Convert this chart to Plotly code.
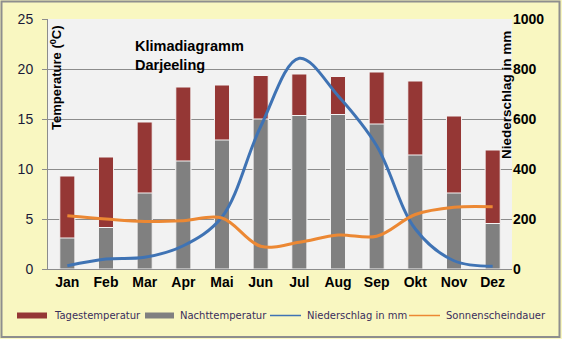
import plotly.graph_objects as go

months = ["Jan", "Feb", "Mar", "Apr", "Mai", "Jun", "Jul", "Aug", "Sep", "Okt", "Nov", "Dez"]
tages_temp = [9.3, 11.2, 14.7, 18.2, 18.4, 19.35, 19.5, 19.25, 19.7, 18.8, 15.3, 11.9]
nacht_temp = [3.1, 4.15, 7.6, 10.8, 12.9, 15.0, 15.35, 15.45, 14.5, 11.4, 7.6, 4.55]
niederschlag = [13, 40, 47, 93, 208, 570, 843, 693, 493, 160, 33, 11]
sonnenschein = [213, 200, 190, 193, 204, 91, 107, 136, 131, 218, 247, 249]
legend_names = ["Tagestemperatur", "Nachttemperatur", "Niederschlag in mm", "Sonnenscheindauer"]

RED = "#953735"
GRAY = "#808080"
BLUE = "#3F73B4"
ORANGE = "#EC8833"
FONT = "Liberation Sans, Arial, sans-serif"

fig = go.Figure()
fig.add_trace(go.Bar(x=months, y=tages_temp, name=legend_names[0], marker=dict(color=RED, line=dict(color="#F4F4F4", width=1)),
                     width=0.39))
fig.add_trace(go.Bar(x=months, y=nacht_temp, name=legend_names[1], marker=dict(color=GRAY, line=dict(color="#F4F4F4", width=1)),
                     width=0.39))
fig.add_trace(go.Scatter(x=months, y=niederschlag, name=legend_names[2], yaxis="y2", mode="lines",
                         line=dict(color=BLUE, width=3, shape="spline", smoothing=1.0)))
fig.add_trace(go.Scatter(x=months, y=sonnenschein, name=legend_names[3], yaxis="y2", mode="lines",
                         line=dict(color=ORANGE, width=3, shape="spline", smoothing=1.0)))

W, H = 562, 339
L, R, T, B = 48, 50, 19, 70
pw, ph = W - L - R, H - T - B

def px(x):
    return (x - L) / pw

def py(y):
    return (H - B - y) / ph

fig.update_layout(
    width=W, height=H,
    margin=dict(l=L, r=R, t=T, b=B, autoexpand=False),
    paper_bgcolor="#F9F7C1",
    plot_bgcolor="#F2F2F2",
    barmode="overlay",
    showlegend=False,
    font=dict(family=FONT, color="#000"),
    xaxis=dict(type="category", range=[-0.5, 11.5], showgrid=False, showline=True, linecolor="#8C8C8C",
               ticks="", tickfont=dict(size=14, color="#000", family=FONT, weight="bold"), zeroline=False),
    yaxis=dict(range=[0, 25], dtick=5, showgrid=True, gridcolor="#8C8C8C", gridwidth=1, showline=True,
               linecolor="#8C8C8C", ticks="outside", ticklen=5, tickcolor="#8C8C8C", ticklabelstandoff=6,
               tickfont=dict(size=14, color="#1A1A3A", family=FONT), zeroline=False),
    yaxis2=dict(range=[0, 1000], dtick=200, overlaying="y", side="right", showgrid=False, showline=False,
                ticks="", tickfont=dict(size=14, color="#000", family=FONT, weight="bold"), zeroline=False),
)

fig.add_annotation(x=px(133), y=py(36), xref="paper", yref="paper", xanchor="left", yanchor="top", align="left",
                   text="<b>Klimadiagramm<br>Darjeeling</b>", showarrow=False, font=dict(size=14.5, family=FONT, color="#000"))
fig.add_annotation(x=px(56), y=py(78), xref="paper", yref="paper", xanchor="center", yanchor="middle",
                   textangle=-90, showarrow=False,
                   text="<b>Temperature (<sup>0</sup>C)</b>", font=dict(size=13, family=FONT, color="#000"))
fig.add_annotation(x=px(506), y=py(95), xref="paper", yref="paper", xanchor="center", yanchor="middle",
                   textangle=-90, showarrow=False,
                   text="<b>Niederschlag in mm</b>", font=dict(size=13.5, family=FONT, color="#000"))

# manual legend
LY = 315.5
items = [(legend_names[0], RED, "box", 17, 47, 52), (legend_names[1], GRAY, "box", 145, 174, 178),
         (legend_names[2], BLUE, "line", 270, 301, 305), (legend_names[3], ORANGE, "line", 409, 440, 444)]
for name, col, kind, x0, x1, tx in items:
    if kind == "box":
        fig.add_shape(type="rect", xref="paper", yref="paper", x0=px(x0), x1=px(x1), y0=py(LY + 3), y1=py(LY - 3),
                      fillcolor=col, line=dict(width=0))
    else:
        fig.add_shape(type="line", xref="paper", yref="paper", x0=px(x0), x1=px(x1), y0=py(LY), y1=py(LY),
                      line=dict(color=col, width=1.5))
    fig.add_annotation(x=px(tx), y=py(LY), xref="paper", yref="paper", xanchor="left", yanchor="middle",
                       text=name, showarrow=False,
                       font=dict(size=10, family="DejaVu Sans, sans-serif", color="#3A2E5C"))

fig.add_shape(type="rect", xref="paper", yref="paper", x0=px(1.5), x1=px(559.5), y0=py(337), y1=py(1.5),
              line=dict(color="#8E8E8E", width=2), layer="below")

fig.write_html("out.html")
